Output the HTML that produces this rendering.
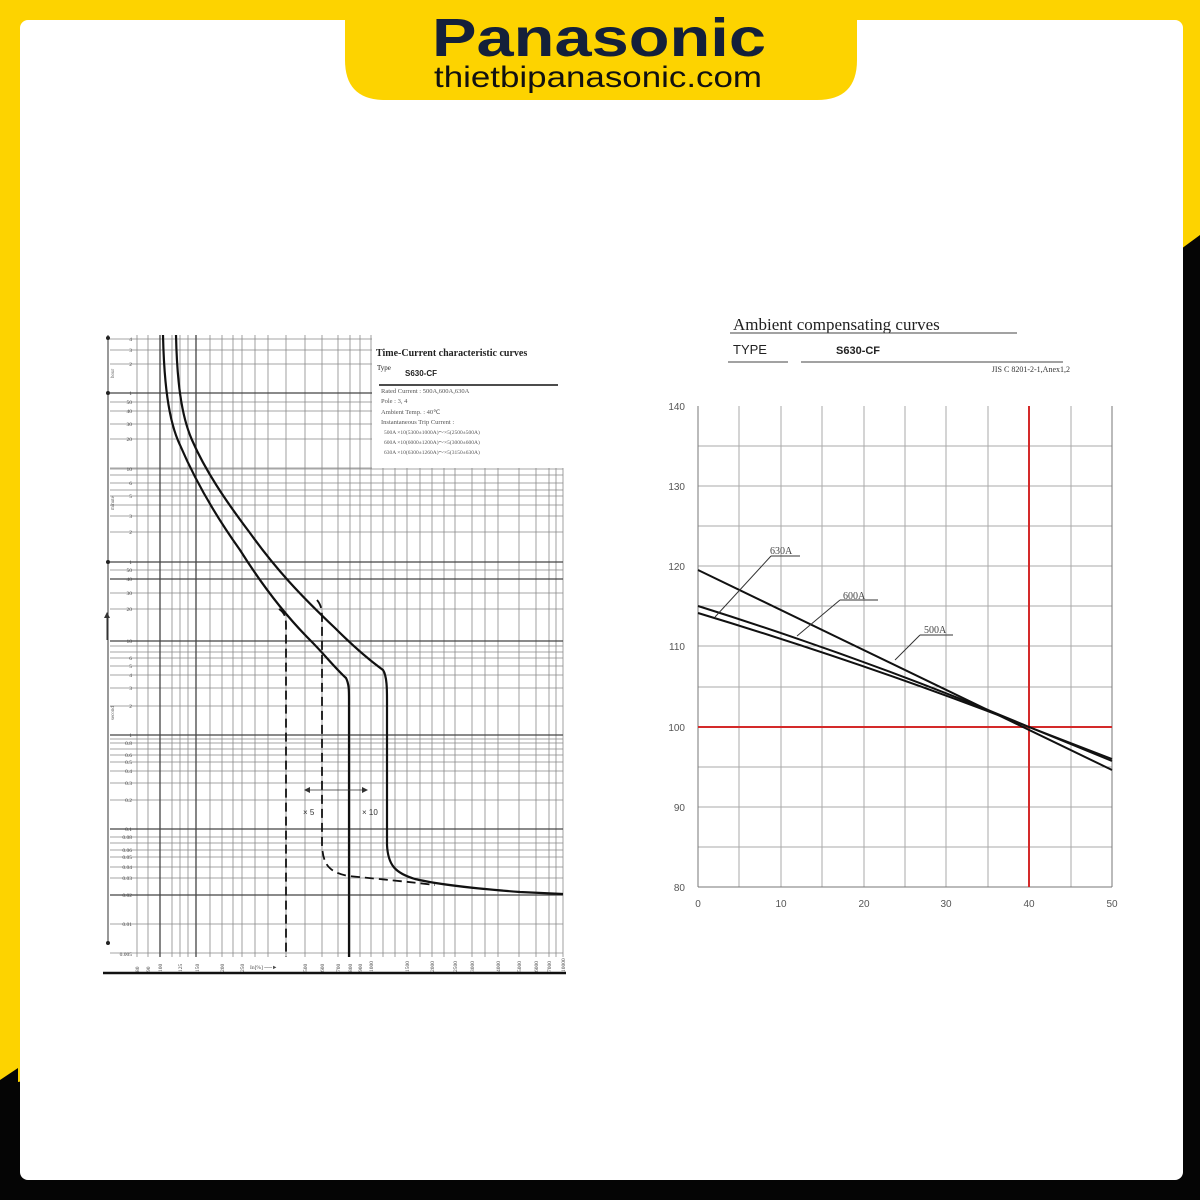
<!DOCTYPE html>
<html><head><meta charset="utf-8"><style>
html,body{margin:0;padding:0;width:1200px;height:1200px;overflow:hidden;background:#fff}
</style></head><body>
<svg width="1200" height="1200" viewBox="0 0 1200 1200" xmlns="http://www.w3.org/2000/svg" font-family="Liberation Sans, sans-serif">
<rect width="1200" height="1200" fill="#fdd300"/>
<polygon points="0,1085 60,1075 1200,235 1200,1200 0,1200" fill="#050505"/>
<polygon points="0,1080 18,1068 18,1200 0,1200" fill="#050505"/>
<rect x="20" y="20" width="1163" height="1160" rx="8" fill="#fff"/>
<path d="M345,0 H857 V60 Q857,100 817,100 H385 Q345,100 345,60 Z" fill="#fdd300"/>
<text x="599" y="56" text-anchor="middle" font-size="54" font-weight="bold" fill="#14203a" textLength="334" lengthAdjust="spacingAndGlyphs">Panasonic</text>
<text x="598" y="87" text-anchor="middle" font-size="30" fill="#111" textLength="328" lengthAdjust="spacingAndGlyphs">thietbipanasonic.com</text>

<!-- LEFT CHART -->
<g stroke="#888" stroke-width="0.8">
<line x1="110" x2="372" y1="339" y2="339"/><line x1="110" x2="372" y1="350" y2="350"/><line x1="110" x2="372" y1="364" y2="364"/>
<line x1="110" x2="372" y1="402" y2="402"/><line x1="110" x2="372" y1="411" y2="411"/><line x1="110" x2="372" y1="424" y2="424"/><line x1="110" x2="372" y1="439" y2="439"/>
<line x1="110" x2="563" y1="469" y2="469"/><line x1="110" x2="563" y1="475" y2="475"/><line x1="110" x2="563" y1="483" y2="483"/><line x1="110" x2="563" y1="490" y2="490"/><line x1="110" x2="563" y1="496" y2="496"/><line x1="110" x2="563" y1="505" y2="505"/><line x1="110" x2="563" y1="516" y2="516"/><line x1="110" x2="563" y1="532" y2="532"/>
<line x1="110" x2="563" y1="570" y2="570"/><line x1="110" x2="563" y1="593" y2="593"/><line x1="110" x2="563" y1="609" y2="609"/>
<line x1="110" x2="563" y1="646" y2="646"/><line x1="110" x2="563" y1="652" y2="652"/><line x1="110" x2="563" y1="658" y2="658"/><line x1="110" x2="563" y1="666" y2="666"/><line x1="110" x2="563" y1="675" y2="675"/><line x1="110" x2="563" y1="688" y2="688"/><line x1="110" x2="563" y1="706" y2="706"/>
<line x1="110" x2="563" y1="739" y2="739"/><line x1="110" x2="563" y1="743" y2="743"/><line x1="110" x2="563" y1="749" y2="749"/><line x1="110" x2="563" y1="755" y2="755"/><line x1="110" x2="563" y1="762" y2="762"/><line x1="110" x2="563" y1="771" y2="771"/><line x1="110" x2="563" y1="783" y2="783"/><line x1="110" x2="563" y1="800" y2="800"/>
<line x1="110" x2="563" y1="837" y2="837"/><line x1="110" x2="563" y1="843" y2="843"/><line x1="110" x2="563" y1="850" y2="850"/><line x1="110" x2="563" y1="857" y2="857"/><line x1="110" x2="563" y1="867" y2="867"/><line x1="110" x2="563" y1="878" y2="878"/>
<line x1="110" x2="563" y1="924" y2="924"/><line x1="110" x2="563" y1="953" y2="953"/>
<line x1="137" x2="137" y1="335" y2="957"/><line x1="148" x2="148" y1="335" y2="957"/><line x1="172" x2="172" y1="335" y2="957"/><line x1="180" x2="180" y1="335" y2="957"/><line x1="188" x2="188" y1="335" y2="957"/><line x1="210" x2="210" y1="335" y2="957"/><line x1="222" x2="222" y1="335" y2="957"/><line x1="233" x2="233" y1="335" y2="957"/><line x1="242" x2="242" y1="335" y2="957"/><line x1="255" x2="255" y1="335" y2="957"/><line x1="268" x2="268" y1="335" y2="957"/><line x1="286" x2="286" y1="335" y2="957"/><line x1="305" x2="305" y1="335" y2="957"/><line x1="322" x2="322" y1="335" y2="957"/><line x1="338" x2="338" y1="335" y2="957"/><line x1="350" x2="350" y1="335" y2="957"/><line x1="360" x2="360" y1="335" y2="957"/><line x1="371" x2="371" y1="335" y2="957"/>
<line x1="383" x2="383" y1="468" y2="957"/><line x1="395" x2="395" y1="468" y2="957"/><line x1="407" x2="407" y1="468" y2="957"/><line x1="420" x2="420" y1="468" y2="957"/><line x1="432" x2="432" y1="468" y2="957"/><line x1="444" x2="444" y1="468" y2="957"/><line x1="455" x2="455" y1="468" y2="957"/><line x1="472" x2="472" y1="468" y2="957"/><line x1="485" x2="485" y1="468" y2="957"/><line x1="498" x2="498" y1="468" y2="957"/><line x1="519" x2="519" y1="468" y2="957"/><line x1="536" x2="536" y1="468" y2="957"/><line x1="549" x2="549" y1="468" y2="957"/><line x1="556" x2="556" y1="468" y2="957"/><line x1="563" x2="563" y1="468" y2="957"/>
<line x1="110" x2="372" y1="468" y2="468"/>
</g>
<g stroke="#444" stroke-width="1.3">
<line x1="110" x2="372" y1="393" y2="393"/>
<line x1="110" x2="563" y1="562" y2="562"/><line x1="110" x2="563" y1="579" y2="579"/>
<line x1="110" x2="563" y1="641" y2="641"/><line x1="110" x2="563" y1="735" y2="735"/><line x1="110" x2="563" y1="829" y2="829"/><line x1="110" x2="563" y1="895" y2="895"/>
<line x1="160" x2="160" y1="335" y2="957"/><line x1="196" x2="196" y1="335" y2="957"/>
</g>
<line x1="108" y1="335" x2="108" y2="945" stroke="#333" stroke-width="1"/>
<g fill="#222"><circle cx="108" cy="393" r="2"/><circle cx="108" cy="562" r="2"/><circle cx="108" cy="943" r="2"/><circle cx="108" cy="338" r="2"/></g>
<line x1="103" y1="973" x2="566" y2="973" stroke="#111" stroke-width="2.5"/>
<line x1="107" y1="640" x2="107" y2="615" stroke="#333"/><polygon points="104,618 110,618 107,612" fill="#333"/>
<g font-size="5.5" fill="#444" font-family="Liberation Serif, serif" text-anchor="end">
<text x="132" y="341">4</text><text x="132" y="352">3</text><text x="132" y="366">2</text><text x="132" y="395">1</text><text x="132" y="404">50</text><text x="132" y="413">40</text><text x="132" y="426">30</text><text x="132" y="441">20</text><text x="132" y="471">10</text><text x="132" y="485">6</text><text x="132" y="498">5</text><text x="132" y="518">3</text><text x="132" y="534">2</text><text x="132" y="564">1</text><text x="132" y="572">50</text><text x="132" y="581">40</text><text x="132" y="595">30</text><text x="132" y="611">20</text><text x="132" y="643">10</text><text x="132" y="660">6</text><text x="132" y="668">5</text><text x="132" y="677">4</text><text x="132" y="690">3</text><text x="132" y="708">2</text><text x="132" y="737">1</text><text x="132" y="745">0.8</text><text x="132" y="757">0.6</text><text x="132" y="764">0.5</text><text x="132" y="773">0.4</text><text x="132" y="785">0.3</text><text x="132" y="802">0.2</text><text x="132" y="831">0.1</text><text x="132" y="839">0.08</text><text x="132" y="852">0.06</text><text x="132" y="859">0.05</text><text x="132" y="869">0.04</text><text x="132" y="880">0.03</text><text x="132" y="897">0.02</text><text x="132" y="926">0.01</text><text x="132" y="956">0.005</text>
</g>
<g font-size="5" fill="#555" font-family="Liberation Serif, serif">
<text transform="translate(114,378) rotate(-90)">hour</text><text transform="translate(114,510) rotate(-90)">minute</text><text transform="translate(114,720) rotate(-90)">second</text>
</g>
<g font-size="5.5" fill="#444" font-family="Liberation Serif, serif">
<text transform="translate(139,972) rotate(-90)">80</text><text transform="translate(150,972) rotate(-90)">90</text><text transform="translate(162,972) rotate(-90)">100</text><text transform="translate(182,972) rotate(-90)">125</text><text transform="translate(199,972) rotate(-90)">150</text><text transform="translate(224,972) rotate(-90)">200</text><text transform="translate(244,972) rotate(-90)">250</text><text transform="translate(307,972) rotate(-90)">500</text><text transform="translate(324,972) rotate(-90)">600</text><text transform="translate(340,972) rotate(-90)">700</text><text transform="translate(352,972) rotate(-90)">800</text><text transform="translate(362,972) rotate(-90)">900</text><text transform="translate(373,972) rotate(-90)">1000</text><text transform="translate(409,972) rotate(-90)">1500</text><text transform="translate(434,972) rotate(-90)">2000</text><text transform="translate(457,972) rotate(-90)">2500</text><text transform="translate(474,972) rotate(-90)">3000</text><text transform="translate(500,972) rotate(-90)">4000</text><text transform="translate(521,972) rotate(-90)">5000</text><text transform="translate(538,972) rotate(-90)">6000</text><text transform="translate(551,972) rotate(-90)">7000</text><text transform="translate(565,972) rotate(-90)">10000</text>
<text x="250" y="969">In[%] ──►</text>
</g>
<g fill="none" stroke="#111" stroke-width="2.2">
<path d="M163,335 C164,380 168,420 180,445 C195,480 215,515 240,550 C262,585 285,615 310,640 C325,655 335,668 346,678 C349,684 349,690 349,700 L349,957"/>
<path d="M176,335 C177,380 181,415 192,440 C205,470 225,500 250,533 C275,568 300,595 335,628 C355,648 372,662 383,670 C387,676 387,690 387,700 L387,845 C388,865 395,873 415,879 C440,885 480,889 520,892 L563,894"/>
</g>
<g fill="none" stroke="#111" stroke-width="1.8" stroke-dasharray="9,5">
<path d="M279,609 C285,613 286,618 286,625 L286,957"/>
<path d="M317,600 C322,606 322,612 322,620 L322,845 C323,866 330,872 348,876 C380,879 410,882 435,885"/>
</g>
<line x1="306" y1="790" x2="366" y2="790" stroke="#333" stroke-width="0.8"/>
<polygon points="304,790 310,787 310,793" fill="#333"/><polygon points="368,790 362,787 362,793" fill="#333"/>
<text x="303" y="815" font-size="8" fill="#333">× 5</text><text x="362" y="815" font-size="8" fill="#333">× 10</text>
<g font-family="Liberation Serif, serif" fill="#222">
<text x="376" y="356" font-size="10" font-weight="bold">Time-Current characteristic curves</text>
<text x="377" y="370" font-size="7">Type</text>
<text x="405" y="376" font-size="8" font-family="Liberation Sans, sans-serif" font-weight="bold">S630-CF</text>
<line x1="379" y1="385" x2="558" y2="385" stroke="#111" stroke-width="1.5"/>
<g font-size="6.5" fill="#555">
<text x="381" y="393">Rated Current : 500A,600A,630A</text>
<text x="381" y="403">Pole : 3, 4</text>
<text x="381" y="414">Ambient Temp. : 40℃</text>
<text x="381" y="424">Instantaneous Trip Current :</text>
<text x="384" y="434" font-size="5.5">500A ×10(5300±1000A)～×5(2500±500A)</text>
<text x="384" y="444" font-size="5.5">600A ×10(6000±1200A)～×5(3000±600A)</text>
<text x="384" y="454" font-size="5.5">630A ×10(6300±1260A)～×5(3150±630A)</text>
</g></g>

<!-- RIGHT CHART -->
<text x="733" y="330" font-family="Liberation Serif, serif" font-size="17" fill="#222">Ambient compensating curves</text>
<line x1="730" y1="333" x2="1017" y2="333" stroke="#444"/>
<text x="733" y="354" font-size="13" fill="#222">TYPE</text>
<text x="836" y="354" font-size="11" font-weight="bold" fill="#222">S630-CF</text>
<line x1="728" y1="362" x2="788" y2="362" stroke="#444"/><line x1="801" y1="362" x2="1063" y2="362" stroke="#444"/>
<text x="1070" y="372" text-anchor="end" font-family="Liberation Serif, serif" font-size="8" fill="#333">JIS C 8201-2-1,Anex1,2</text>
<g stroke="#aaa" stroke-width="1">
<line x1="739" x2="739" y1="406" y2="887"/><line x1="781" x2="781" y1="406" y2="887"/><line x1="822" x2="822" y1="406" y2="887"/><line x1="864" x2="864" y1="406" y2="887"/><line x1="905" x2="905" y1="406" y2="887"/><line x1="946" x2="946" y1="406" y2="887"/><line x1="988" x2="988" y1="406" y2="887"/><line x1="1071" x2="1071" y1="406" y2="887"/>
<line x1="698" x2="1112" y1="446" y2="446"/><line x1="698" x2="1112" y1="486" y2="486"/><line x1="698" x2="1112" y1="526" y2="526"/><line x1="698" x2="1112" y1="566" y2="566"/><line x1="698" x2="1112" y1="606" y2="606"/><line x1="698" x2="1112" y1="646" y2="646"/><line x1="698" x2="1112" y1="687" y2="687"/><line x1="698" x2="1112" y1="767" y2="767"/><line x1="698" x2="1112" y1="807" y2="807"/><line x1="698" x2="1112" y1="847" y2="847"/>
</g>
<line x1="698" y1="406" x2="698" y2="887" stroke="#777"/><line x1="1112" y1="406" x2="1112" y2="887" stroke="#777"/>
<line x1="698" y1="887" x2="1112" y2="887" stroke="#777"/>
<line x1="1029" y1="406" x2="1029" y2="887" stroke="#d42a2a" stroke-width="2"/>
<line x1="698" y1="727" x2="1112" y2="727" stroke="#d42a2a" stroke-width="2"/>
<g stroke="#111" stroke-width="2" fill="none">
<line x1="698" y1="570" x2="1112" y2="770"/>
<path d="M698,606 Q870,660 1029,727 L1112,759"/>
<path d="M698,613 Q870,665 1029,727 L1112,761"/>
</g>
<g stroke="#333" stroke-width="1">
<line x1="715" y1="617" x2="771" y2="556"/><line x1="771" y1="556" x2="800" y2="556"/>
<line x1="797" y1="636" x2="840" y2="600"/><line x1="840" y1="600" x2="878" y2="600"/>
<line x1="895" y1="660" x2="920" y2="635"/><line x1="920" y1="635" x2="953" y2="635"/>
</g>
<g font-family="Liberation Serif, serif" font-size="10" fill="#444">
<text x="770" y="554">630A</text><text x="843" y="599">600A</text><text x="924" y="633">500A</text>
</g>
<g font-size="10" fill="#555" text-anchor="end">
<text x="685" y="410">140</text><text x="685" y="490">130</text><text x="685" y="570">120</text><text x="685" y="650">110</text><text x="685" y="731">100</text><text x="685" y="811">90</text><text x="685" y="891">80</text>
</g>
<g font-size="10" fill="#555" text-anchor="middle">
<text x="698" y="907">0</text><text x="781" y="907">10</text><text x="864" y="907">20</text><text x="946" y="907">30</text><text x="1029" y="907">40</text><text x="1112" y="907">50</text>
</g>
</svg>
</body></html>
